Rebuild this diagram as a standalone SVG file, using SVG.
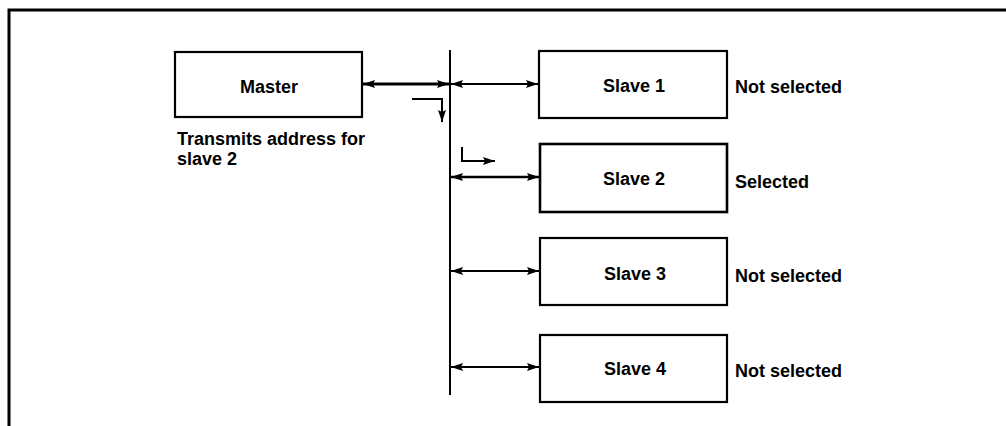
<svg xmlns="http://www.w3.org/2000/svg" width="1006" height="426" viewBox="0 0 1006 426">
<style>
.box{fill:#fff;stroke:#000;stroke-width:2.2}
.t{font-family:"Liberation Sans",Arial,sans-serif;font-size:18px;font-weight:bold;fill:#000}
.c{text-anchor:middle}
.ln{fill:none;stroke:#000;stroke-width:2}
</style>
<defs>
<marker id="ah" markerUnits="userSpaceOnUse" markerWidth="14" markerHeight="10" refX="12" refY="5" orient="auto-start-reverse">
<path d="M0,1 L12,5 L0,9 L2,5 Z" fill="#000"/>
</marker>
</defs>
<g id="frame">
<path d="M9,426 V10 H1006" fill="none" stroke="#000" stroke-width="3"/>
</g>
<g id="master">
<rect class="box" x="175" y="52" width="187" height="65"/>
<text class="t c" x="269" y="93">Master</text>
</g>
<g id="master-note">
<text class="t" x="177" y="145">Transmits address for</text>
<text class="t" x="177" y="165">slave 2</text>
</g>
<g id="slave1">
<rect class="box" x="539" y="51" width="188" height="67"/>
<text class="t c" x="634" y="92">Slave 1</text>
<text class="t" x="735" y="93">Not selected</text>
</g>
<g id="slave2">
<rect class="box" x="540" y="144" width="187" height="68" style="stroke-width:2.6"/>
<text class="t c" x="634" y="185">Slave 2</text>
<text class="t" x="735" y="188">Selected</text>
</g>
<g id="slave3">
<rect class="box" x="540" y="238" width="187" height="67"/>
<text class="t c" x="635" y="280">Slave 3</text>
<text class="t" x="735" y="282">Not selected</text>
</g>
<g id="slave4">
<rect class="box" x="540" y="335" width="187" height="67"/>
<text class="t c" x="635" y="375">Slave 4</text>
<text class="t" x="735" y="377">Not selected</text>
</g>
<g id="connectors">
<line class="ln" x1="450" y1="50" x2="450" y2="395"/>
<line class="ln" x1="363" y1="84" x2="449" y2="84" style="stroke-width:3" marker-start="url(#ah)" marker-end="url(#ah)"/>
<line class="ln" x1="451" y1="84" x2="538" y2="84" marker-start="url(#ah)" marker-end="url(#ah)"/>
<line class="ln" x1="451" y1="177" x2="539" y2="177" style="stroke-width:2.6" marker-start="url(#ah)" marker-end="url(#ah)"/>
<line class="ln" x1="451" y1="271" x2="539" y2="271" marker-start="url(#ah)" marker-end="url(#ah)"/>
<line class="ln" x1="451" y1="367" x2="539" y2="367" marker-start="url(#ah)" marker-end="url(#ah)"/>
<path class="ln" d="M412,99 H442 V122" marker-end="url(#ah)"/>
<path class="ln" d="M462,147 V161 H495" marker-end="url(#ah)"/>
</g>
</svg>
